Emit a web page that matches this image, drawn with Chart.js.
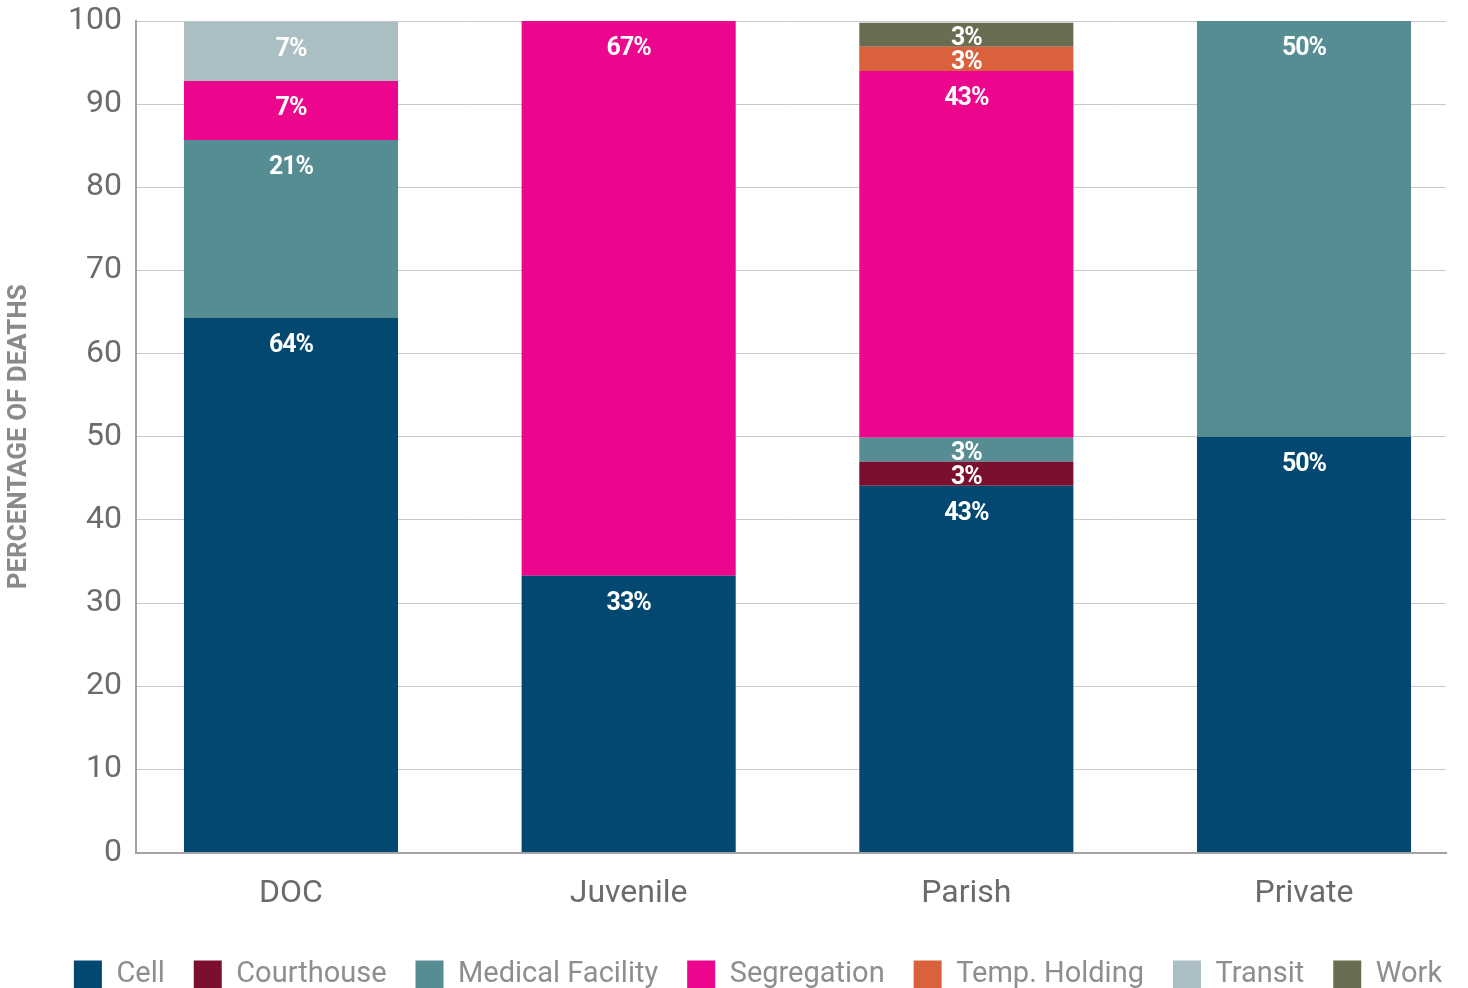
<!DOCTYPE html>
<html>
<head>
<meta charset="utf-8">
<script src="https://cdn.jsdelivr.net/npm/chart.js@4/dist/chart.umd.min.js"></script>
<style>
  html, body { margin: 0; padding: 0; background: #ffffff; }
  #wrap { width: 1468px; height: 988px; position: relative; }
</style>
</head>
<body>
<div id="wrap"><canvas id="c" width="1468" height="988"></canvas></div>
<script>
// ---- data ----
const categories = ['DOC', 'Juvenile', 'Parish', 'Private'];
const seriesNames = ['Cell', 'Courthouse', 'Medical Facility', 'Segregation', 'Temp. Holding', 'Transit', 'Work'];
const cell        = [64.3, 33.3, 44.1, 50];
const courthouse  = [null, null, 2.9, null];
const medical     = [21.4, null, 2.9, 50];
const segregation = [7.1, 66.7, 44.1, null];
const tempHolding = [null, null, 2.9, null];
const transit     = [7.1, null, null, null];
const work        = [null, null, 2.9, null];
const cellLabels        = ['64%', '33%', '43%', '50%'];
const courthouseLabels  = ['', '', '3%', ''];
const medicalLabels     = ['21%', '', '3%', '50%'];
const segregationLabels = ['7%', '67%', '43%', ''];
const tempHoldingLabels = ['', '', '3%', ''];
const transitLabels     = ['7%', '', '', ''];
const workLabels        = ['', '', '3%', ''];
const yTicks = [0, 10, 20, 30, 40, 50, 60, 70, 80, 90, 100];

const seriesValues = [cell, courthouse, medical, segregation, tempHolding, transit, work];
const seriesLabels = [cellLabels, courthouseLabels, medicalLabels, segregationLabels, tempHoldingLabels, transitLabels, workLabels];
const colors = ['#034871', '#7a0f2e', '#558d93', '#ec058d', '#d9623c', '#abbec4', '#6a6d51'];

const datasets = seriesNames.map((name, s) => ({
  label: name,
  data: seriesValues[s].map((v, i) => ({ x: i, y: v })),
  valueLabels: seriesLabels[s],
  backgroundColor: colors[s],
  borderWidth: 0,
  categoryPercentage: 1,
  barPercentage: 0.634
}));

const LEGEND_SHIFT = 11;   // legend moved down (px)
const LEGEND_NUDGE_X = 35; // legend moved right (px)
const legendShiftPlugin = {
  id: 'legendShift',
  beforeUpdate(chart) {
    const lg = chart.legend;
    if (lg && !lg._shiftPatched) {
      lg._shiftPatched = true;
      const origFit = lg.fit;
      lg.fit = function () { origFit.call(this); this.height = this.height - LEGEND_SHIFT; };
      const origDraw = lg.draw;
      lg.draw = function (...args) {
        const ctx = this.ctx;
        ctx.save();
        ctx.translate(LEGEND_NUDGE_X, 0);
        origDraw.apply(this, args);
        ctx.restore();
      };
    }
  }
};

const barLabelPlugin = {
  id: 'barLabels',
  afterDatasetsDraw(chart) {
    const ctx = chart.ctx;
    ctx.save();
    ctx.fillStyle = '#ffffff';
    ctx.font = 'bold 25px Roboto';
    ctx.textAlign = 'center';
    ctx.textBaseline = 'middle';
    try { ctx.letterSpacing = '-1px'; } catch (e) {}
    chart.data.datasets.forEach((ds, di) => {
      const meta = chart.getDatasetMeta(di);
      meta.data.forEach((el, i) => {
        const v = ds.data[i].y;
        const txt = ds.valueLabels[i];
        if (v == null || !txt) return;
        const top = Math.min(el.y, el.base);
        const h = Math.abs(el.base - el.y);
        const y = top + Math.min(28, h / 2 + 4);
        ctx.fillText(txt, el.x, y);
      });
    });
    ctx.restore();
  }
};

new Chart(document.getElementById('c'), {
  type: 'bar',
  data: { datasets },
  plugins: [legendShiftPlugin, barLabelPlugin],
  options: {
    responsive: false,
    animation: false,
    layout: { padding: { top: 21, right: 22, left: 0, bottom: 0 } },
    plugins: {
      tooltip: { enabled: false },
      legend: {
        position: 'bottom',
        labels: {
          boxWidth: 28,
          boxHeight: 28,
          padding: 29,
          color: '#8e8e92',
          font: { family: 'Roboto', size: 29 }
        }
      }
    },
    scales: {
      x: {
        type: 'linear',
        stacked: true,
        offset: false,
        min: -0.459,
        max: 3.4205,
        afterBuildTicks: (scale) => { scale.ticks = categories.map((c, i) => ({ value: i })); },
        afterFit: (scale) => { scale.height = scale.height - 4; },
        ticks: {
          callback: (v) => categories[v] ?? '',
          color: '#6b6b6b',
          font: { family: 'Roboto', size: 32 },
          padding: 22,
          maxRotation: 0,
          autoSkip: false
        },
        grid: { display: false, drawTicks: false, offset: false },
        border: { display: true, color: '#a3a3a3', width: 2 }
      },
      y: {
        stacked: true,
        min: 0,
        max: 100,
        afterBuildTicks: (scale) => { scale.ticks = yTicks.map(v => ({ value: v })); },
        afterFit: (scale) => { scale.width = 136; scale.paddingTop = 0; scale.paddingBottom = 0; },
        ticks: {
          color: '#6b6b6b',
          font: { family: 'Roboto', size: 32 },
          padding: 14
        },
        grid: { color: '#c9c9c9', lineWidth: 1, drawTicks: false },
        border: { display: true, color: '#a3a3a3', width: 2 },
        title: {
          display: true,
          text: 'PERCENTAGE OF DEATHS',
          color: '#8a8a8a',
          font: { family: 'Roboto', size: 26, weight: 'bold' },
          padding: { top: 4, bottom: 0 }
        }
      }
    }
  }
});
</script>
</body>
</html>
